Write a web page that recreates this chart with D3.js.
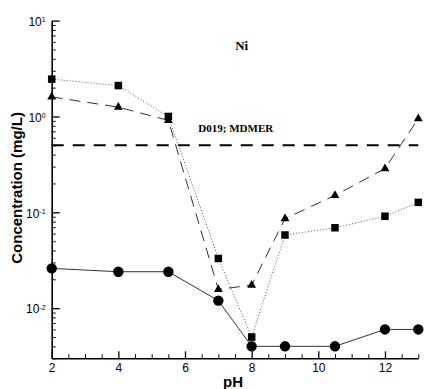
<!DOCTYPE html>
<html>
<head>
<meta charset="utf-8">
<script src="https://cdn.jsdelivr.net/npm/d3@7"></script>
<style>
  body { margin: 0; background: #fff; }
  .axis text { font-family: "Liberation Sans", Arial, sans-serif; font-size: 12px; fill: #000; }
  .axis path, .axis line { stroke: #000; }
</style>
</head>
<body>
<div id="chart"></div>
<script>

// pH values and measured Ni concentrations (mg/L)
const phValues = [2, 4, 5.5, 7, 8, 9, 10.5, 12, 13];
const circleConc = [0.026, 0.024, 0.024, 0.012, 0.004, 0.004, 0.004, 0.006, 0.006];
const squareConc = [2.45, 2.1, 1.0, 0.033, 0.005, 0.058, 0.069, 0.091, 0.127];
const triangleConc = [1.6, 1.25, 0.91, 0.0157, 0.0174, 0.086, 0.15, 0.286, 0.95];
const limitValue = 0.5;
const limitLabel = "D019; MDMER";
const xMajorTicks = [2, 4, 6, 8, 10, 12];
const yMajorTicks = [0.01, 0.1, 1, 10];

function drawChart(container) {

    d3.select(container).selectAll('*').remove();

    const W = 429, H = 389;
    const margin = {top: 20.6, right: 10.7, bottom: 30.7, left: 51.7};
    const width = W - margin.left - margin.right;
    const height = H - margin.top - margin.bottom;

    const x = d3.scaleLinear().domain([2, 13]).range([0, width]);
    const y = d3.scaleLog().domain([0.003, 10]).range([height, 0]);

    const svg = d3.select(container)
        .append("svg")
        .attr("width", W)
        .attr("height", H);

    const g = svg.append("g")
        .attr("transform", "translate(" + margin.left + "," + margin.top + ")");

    // minor ticks
    const yMinor = y.ticks().filter(function (v) { return yMajorTicks.indexOf(v) < 0; });
    const xMinor = d3.range(2, 13.01, 0.5).filter(function (v) { return xMajorTicks.indexOf(v) < 0; });

    g.append("g")
        .attr("class", "axis")
        .call(d3.axisLeft(y).tickValues(yMinor).tickSize(-4).tickFormat(""))
        .call(function (s) { s.select(".domain").remove(); });

    const yAx = g.append("g")
        .attr("class", "axis")
        .call(d3.axisLeft(y).tickValues(yMajorTicks).tickSize(-8).tickSizeOuter(0).tickPadding(6));
    yAx.select(".domain").attr("stroke-width", 1.6);
    yAx.selectAll(".tick line").attr("stroke-width", 1.3);
    yAx.selectAll(".tick text").each(function (d) {
        const t = d3.select(this).text(null).attr("dy", "0.4em");
        t.append("tspan").text("10");
        t.append("tspan").attr("dy", "-0.55em").style("font-size", "7px")
            .text(Math.round(Math.log10(d)));
    });

    g.append("g")
        .attr("class", "axis")
        .attr("transform", "translate(0," + height + ")")
        .call(d3.axisBottom(x).tickValues(xMinor).tickSize(-4).tickFormat(""))
        .call(function (s) { s.select(".domain").remove(); });

    const xAx = g.append("g")
        .attr("class", "axis")
        .attr("transform", "translate(0," + height + ")")
        .call(d3.axisBottom(x).tickValues(xMajorTicks).tickSize(-7).tickSizeOuter(0).tickPadding(5));
    xAx.select(".domain").attr("stroke-width", 1.6);
    xAx.selectAll(".tick line").attr("stroke-width", 1.3);

    // limit line
    g.append("line")
        .attr("x1", x(2)).attr("x2", x(13))
        .attr("y1", y(limitValue)).attr("y2", y(limitValue))
        .attr("stroke", "#000")
        .attr("stroke-width", 2)
        .attr("stroke-dasharray", "12,9");

    g.append("text")
        .attr("x", x(6.4))
        .attr("y", y(limitValue) - 13)
        .style("font-family", "'Liberation Serif', 'Times New Roman', serif")
        .style("font-weight", "bold")
        .style("font-size", "11px")
        .text(limitLabel);

    g.append("text")
        .attr("x", x(7.7))
        .attr("y", 29)
        .style("text-anchor", "middle")
        .style("font-family", "'Liberation Serif', 'Times New Roman', serif")
        .style("font-weight", "bold")
        .style("font-size", "13px")
        .text("Ni");

    const line = function (vals) {
        return d3.line()
            .x(function (d, i) { return x(phValues[i]); })
            .y(function (d) { return y(d); })(vals);
    };

    // series lines
    g.append("path").attr("d", line(circleConc))
        .attr("fill", "none").attr("stroke", "#333").attr("stroke-width", 1);
    g.append("path").attr("d", line(squareConc))
        .attr("fill", "none").attr("stroke", "#555").attr("stroke-width", 1)
        .attr("stroke-dasharray", "1,2");
    g.append("path").attr("d", line(triangleConc))
        .attr("fill", "none").attr("stroke", "#333").attr("stroke-width", 1)
        .attr("stroke-dasharray", "11,7");

    // markers
    g.selectAll(".circ")
        .data(circleConc)
        .enter().append("circle")
        .attr("class", "circ")
        .attr("r", 5.2)
        .attr("cx", function (d, i) { return x(phValues[i]); })
        .attr("cy", function (d) { return y(d); })
        .style("fill", "#000");

    g.selectAll(".sq")
        .data(squareConc)
        .enter().append("rect")
        .attr("class", "sq")
        .attr("width", 7.5).attr("height", 7.5)
        .attr("x", function (d, i) { return x(phValues[i]) - 3.75; })
        .attr("y", function (d) { return y(d) - 3.75; })
        .style("fill", "#000");

    const tri = d3.symbol().type(d3.symbolTriangle).size(34);
    g.selectAll(".tri")
        .data(triangleConc)
        .enter().append("path")
        .attr("class", "tri")
        .attr("d", tri)
        .attr("transform", function (d, i) {
            return "translate(" + x(phValues[i]) + "," + y(d) + ")";
        })
        .style("fill", "#000");

    // axis titles
    g.append("text")
        .attr("x", width / 2 - 2)
        .attr("y", height + 29)
        .style("text-anchor", "middle")
        .style("font-family", "'Liberation Sans', Arial, sans-serif")
        .style("font-weight", "bold")
        .style("font-size", "15px")
        .text("pH");

    g.append("text")
        .attr("transform", "rotate(-90)")
        .attr("x", 0 - (height / 2) + 1.5)
        .attr("y", 0 - margin.left + 22)
        .style("text-anchor", "middle")
        .style("font-family", "'Liberation Sans', Arial, sans-serif")
        .style("font-weight", "bold")
        .style("font-size", "15px")
        .text("Concentration (mg/L)");
}

drawChart("#chart");
</script>
</body>
</html>
